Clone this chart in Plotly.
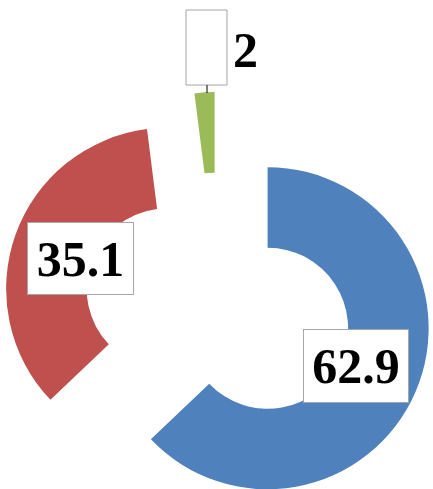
import plotly.graph_objects as go

# ---- data ----
categories = ["A", "B", "C"]
values = [62.9, 35.1, 2]
colors = ["#4F81BD", "#C0504D", "#9BBB59"]
label_texts = ["62.9", "35.1", "2"]

W, H = 433, 522

def px(x):
    return x / W

def py(y):
    return 1 - y / H

fig = go.Figure()
fig.add_trace(go.Pie(
    labels=categories,
    values=values,
    marker=dict(colors=colors, line=dict(width=0)),
    hole=0.5,
    sort=False,
    direction="clockwise",
    rotation=0,
    pull=[0.335, 0.335, 0.335],
    textinfo="none",
    hoverinfo="skip",
    showlegend=False,
    domain=dict(x=[px(3), px(433)], y=[py(522), py(92)]),
))

font = dict(family="Liberation Serif, Times New Roman, serif", size=50, color="black")
boxstyle = dict(bgcolor="white", bordercolor="#A6A6A6", borderwidth=1, borderpad=0)

# label boxes for the two large slices
fig.add_annotation(x=px(356), y=py(366), xref="paper", yref="paper",
                   xanchor="center", yanchor="middle",
                   text="<b>%s</b>" % label_texts[0], showarrow=False,
                   width=104, height=72, font=font, **boxstyle)
fig.add_annotation(x=px(80), y=py(258), xref="paper", yref="paper",
                   xanchor="center", yanchor="middle",
                   text="<b>%s</b>" % label_texts[1], showarrow=False,
                   width=105, height=71, font=font, **boxstyle)

# small slice: empty framed box, leader line, text beside it
fig.add_shape(type="rect", xref="paper", yref="paper",
              x0=px(186), x1=px(227), y0=py(85), y1=py(10),
              fillcolor="white", line=dict(color="#A6A6A6", width=1))
fig.add_shape(type="line", xref="paper", yref="paper",
              x0=px(207), x1=px(207), y0=py(85), y1=py(93),
              line=dict(color="black", width=1))
fig.add_annotation(x=px(231), y=py(50), xref="paper", yref="paper",
                   xanchor="left", yanchor="middle",
                   text="<b>%s</b>" % label_texts[2],
                   showarrow=False, font=font)

fig.update_layout(
    width=W, height=H,
    margin=dict(l=0, r=0, t=0, b=0),
    paper_bgcolor="white", plot_bgcolor="white",
)

fig.write_html(
    "out.html",
    config={"displayModeBar": False},
    post_script="document.body.style.margin='0';document.body.style.overflow='hidden';",
)
